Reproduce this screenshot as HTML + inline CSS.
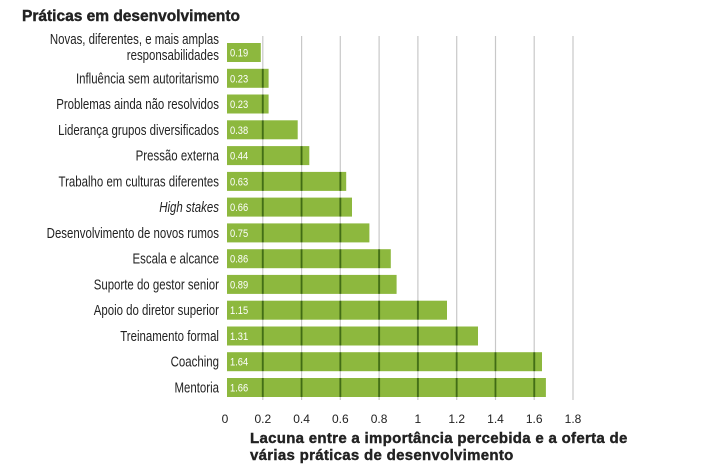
<!DOCTYPE html>
<html><head><meta charset="utf-8"><style>
html,body{margin:0;padding:0;background:#fff;}
svg{display:block;}
</style></head><body>
<svg width="709" height="470" xmlns="http://www.w3.org/2000/svg">
<defs>
<pattern id="bp" patternUnits="userSpaceOnUse" x="224" y="0" width="38.78" height="470">
<rect x="0" y="0" width="38.78" height="470" fill="#8db83e"/>
<rect x="0" y="0" width="0.9" height="470" fill="#3f6a14"/>
<rect x="37.88" y="0" width="0.9" height="470" fill="#3f6a14"/>
</pattern>
</defs>
<text x="22" y="21" font-family="Liberation Sans, sans-serif" font-weight="bold" font-size="15.5" fill="#222" stroke="#222" stroke-width="0.4">Práticas em desenvolvimento</text>
<g stroke="#c8c8c8" stroke-width="1.2">
<line x1="262.8" y1="36" x2="262.8" y2="400"/><line x1="301.6" y1="36" x2="301.6" y2="400"/>
<line x1="340.3" y1="36" x2="340.3" y2="400"/><line x1="379.1" y1="36" x2="379.1" y2="400"/>
<line x1="417.9" y1="36" x2="417.9" y2="400"/><line x1="456.7" y1="36" x2="456.7" y2="400"/>
<line x1="495.5" y1="36" x2="495.5" y2="400"/><line x1="534.2" y1="36" x2="534.2" y2="400"/>
<line x1="573" y1="36" x2="573" y2="400"/>
</g>
<g fill="url(#bp)">
<rect x="227" y="43" width="33.8" height="19"/>
<rect x="227" y="68.8" width="41.6" height="19"/>
<rect x="227" y="94.5" width="41.6" height="19"/>
<rect x="227" y="120.3" width="70.7" height="19"/>
<rect x="227" y="146.1" width="82.3" height="19"/>
<rect x="227" y="171.9" width="119.2" height="19"/>
<rect x="227" y="197.6" width="125.0" height="19"/>
<rect x="227" y="223.4" width="142.4" height="19"/>
<rect x="227" y="249.2" width="163.8" height="19"/>
<rect x="227" y="274.9" width="169.6" height="19"/>
<rect x="227" y="300.7" width="220.0" height="19"/>
<rect x="227" y="326.5" width="251.0" height="19"/>
<rect x="227" y="352.2" width="315.0" height="19"/>
<rect x="227" y="378.0" width="318.9" height="19"/>
</g>
<g font-family="Liberation Sans, sans-serif" font-size="11" fill="#fff" transform="scale(0.85,1)">
<text x="270.6" y="56.5">0.19</text>
<text x="270.6" y="82.3">0.23</text>
<text x="270.6" y="108">0.23</text>
<text x="270.6" y="133.8">0.38</text>
<text x="270.6" y="159.6">0.44</text>
<text x="270.6" y="185.4">0.63</text>
<text x="270.6" y="211.1">0.66</text>
<text x="270.6" y="236.9">0.75</text>
<text x="270.6" y="262.7">0.86</text>
<text x="270.6" y="288.4">0.89</text>
<text x="270.6" y="314.2">1.15</text>
<text x="270.6" y="340">1.31</text>
<text x="270.6" y="365.7">1.64</text>
<text x="270.6" y="391.5">1.66</text>
</g>
<g font-family="Liberation Sans, sans-serif" font-size="14.5" fill="#222" text-anchor="end" transform="scale(0.79,1)">
<text x="277.2" y="44">Novas, diferentes, e mais amplas</text>
<text x="277.2" y="60">responsabilidades</text>
<text x="277.2" y="83.3">Influência sem autoritarismo</text>
<text x="277.2" y="109">Problemas ainda não resolvidos</text>
<text x="277.2" y="134.8">Liderança grupos diversificados</text>
<text x="277.2" y="160.6">Pressão externa</text>
<text x="277.2" y="186.4">Trabalho em culturas diferentes</text>
<text x="277.2" y="212.1" font-style="italic">High stakes</text>
<text x="277.2" y="237.9">Desenvolvimento de novos rumos</text>
<text x="277.2" y="263.7">Escala e alcance</text>
<text x="277.2" y="289.4">Suporte do gestor senior</text>
<text x="277.2" y="315.2">Apoio do diretor superior</text>
<text x="277.2" y="341">Treinamento formal</text>
<text x="277.2" y="366.7">Coaching</text>
<text x="277.2" y="392.5">Mentoria</text>
</g>
<g font-family="Liberation Sans, sans-serif" font-size="12" fill="#222" text-anchor="middle">
<text x="225" y="423">0</text><text x="262.8" y="423">0.2</text><text x="301.6" y="423">0.4</text>
<text x="340.3" y="423">0.6</text><text x="379.1" y="423">0.8</text><text x="417.9" y="423">1</text>
<text x="456.7" y="423">1.2</text><text x="495.5" y="423">1.4</text><text x="534.2" y="423">1.6</text>
<text x="573" y="423">1.8</text>
</g>
<g font-family="Liberation Sans, sans-serif" font-weight="bold" font-size="15" fill="#222" stroke="#222" stroke-width="0.4" letter-spacing="0.3">
<text x="250" y="443">Lacuna entre a importância percebida e a oferta de</text>
<text x="250" y="460">várias práticas de desenvolvimento</text>
</g>
</svg>
</body></html>
